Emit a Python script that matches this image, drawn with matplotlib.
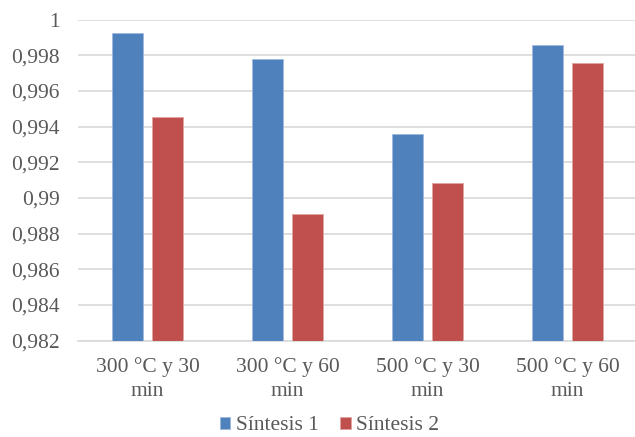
import numpy as np
import matplotlib.pyplot as plt
from matplotlib.ticker import FuncFormatter

# ── Data ───────────────────────────────────────────────────────────────────────
categories = ["300 °C y 30\nmin", "300 °C y 60\nmin", "500 °C y 30\nmin", "500 °C y 60\nmin"]
sintesis_1 = [0.99924, 0.99778, 0.99360, 0.99857]
sintesis_2 = [0.99453, 0.98911, 0.99085, 0.99756]
series_names = ["Síntesis 1", "Síntesis 2"]
y_ticks = np.round(np.arange(0.982, 1.0001, 0.002), 3)

BLUE = "#4F81BD"
RED = "#C0504D"
GRID = "#D9D9D9"
TXT = "#595959"
FS = 15.5

plt.rcParams["font.family"] = ["Liberation Serif", "DejaVu Serif"]

fig = plt.figure(figsize=(6.35, 4.37), dpi=100)
ax = fig.add_axes([77.5 / 635, 1 - 340.7 / 437, 560 / 635, (340.7 - 19.7) / 437])

xs = np.arange(len(categories))
w, off = 0.222, 0.142
ax.bar(xs - off, sintesis_1, width=w, color=BLUE, edgecolor="#9DB8DC",
       linewidth=0.6, label=series_names[0], zorder=3)
ax.bar(xs + off, sintesis_2, width=w, color=RED, edgecolor="#E0A3A1",
       linewidth=0.6, label=series_names[1], zorder=3)

ax.set_xlim(-0.5, len(categories) - 0.5)
ax.set_ylim(0.982, 1.0)
ax.set_yticks(y_ticks)
ax.yaxis.set_major_formatter(FuncFormatter(
    lambda v, _: ("%g" % round(v, 3)).replace(".", ",")))
ax.set_xticks(xs)
ax.set_xticklabels(categories, linespacing=1.32)

ax.grid(True, axis="y", color=GRID, linewidth=1.2, zorder=0)
for s in ["top", "right", "left"]:
    ax.spines[s].set_visible(False)
ax.spines["bottom"].set_color(GRID)
ax.spines["bottom"].set_linewidth(1.2)
ax.tick_params(axis="y", length=0, pad=13, labelsize=FS, labelcolor=TXT)
ax.tick_params(axis="x", length=0, pad=12, labelsize=FS, labelcolor=TXT)

fig.legend(loc="center", bbox_to_anchor=(329.5 / 635, 1 - 426 / 437), ncol=2,
           frameon=False, fontsize=FS, labelcolor=TXT, handlelength=0.5,
           handleheight=0.5, handletextpad=0.25, columnspacing=1.0,
           borderpad=0, borderaxespad=0)

fig.savefig("out.png", dpi=100)
